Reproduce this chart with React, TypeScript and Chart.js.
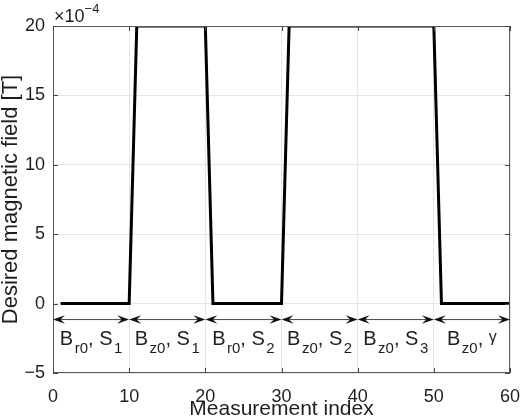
import React, { useEffect, useRef } from "react";
import { Chart, registerables } from "chart.js";

Chart.register(...registerables);

// ---- data ----
const measurementIndex = [
  1, 2, 3, 4, 5, 6, 7, 8, 9, 10,
  11, 12, 13, 14, 15, 16, 17, 18, 19, 20,
  21, 22, 23, 24, 25, 26, 27, 28, 29, 30,
  31, 32, 33, 34, 35, 36, 37, 38, 39, 40,
  41, 42, 43, 44, 45, 46, 47, 48, 49, 50,
  51, 52, 53, 54, 55, 56, 57, 58, 59, 60,
];
// desired magnetic field, in units of 1e-4 T
const desiredField = [
  0, 0, 0, 0, 0, 0, 0, 0, 0, 0,
  20, 20, 20, 20, 20, 20, 20, 20, 20, 20,
  0, 0, 0, 0, 0, 0, 0, 0, 0, 0,
  20, 20, 20, 20, 20, 20, 20, 20, 20, 20,
  20, 20, 20, 20, 20, 20, 20, 20, 20, 20,
  0, 0, 0, 0, 0, 0, 0, 0, 0, 0,
];
const xTicks = [0, 10, 20, 30, 40, 50, 60];
const yTicks = [-5, 0, 5, 10, 15, 20];

// annotation segments (measurement-index ranges) and their labels
const segStart = [0, 10, 20, 30, 40, 50];
const segEnd = [10, 20, 30, 40, 50, 60];
const labelMain1 = ["B", "B", "B", "B", "B", "B"];
const labelSub1 = ["r0", "z0", "r0", "z0", "z0", "z0"];
const labelMain2 = ["S", "S", "S", "S", "S", "\u03b3"];
const labelSub2 = ["1", "1", "2", "2", "3", ""];
const ARROW_Y = -1.15; // data units
const LABEL_Y = -2.95; // data units (baseline)

const FONT = "'Liberation Sans', Arial, Helvetica, sans-serif";
const TEXT = "#1e1e1e";

const fmt = (v: number) => (v < 0 ? "\u2212" + Math.abs(v) : String(v));

const decorPlugin = {
  id: "decor",
  afterDatasetsDraw(chart: any) {
    const { ctx, chartArea: a, scales } = chart;
    const xs = scales.x;
    const ys = scales.y;
    ctx.save();

    // axes box
    ctx.strokeStyle = "#5a5a5a";
    ctx.lineWidth = 1;
    ctx.strokeRect(a.left + 0.5, a.top + 0.5, a.right - a.left - 1, a.bottom - a.top - 1);

    // inward ticks on all four sides
    const tl = 5;
    ctx.strokeStyle = "#444";
    ctx.beginPath();
    xTicks.forEach((t) => {
      const px = Math.round(xs.getPixelForValue(t)) + 0.5;
      ctx.moveTo(px, a.bottom);
      ctx.lineTo(px, a.bottom - tl);
      ctx.moveTo(px, a.top);
      ctx.lineTo(px, a.top + tl);
    });
    yTicks.forEach((t) => {
      const py = Math.round(ys.getPixelForValue(t)) + 0.5;
      ctx.moveTo(a.left, py);
      ctx.lineTo(a.left + tl, py);
      ctx.moveTo(a.right, py);
      ctx.lineTo(a.right - tl, py);
    });
    ctx.stroke();

    // arrows
    const ay = ys.getPixelForValue(ARROW_Y);
    const L = 12;
    const W = 4.2;
    const head = (tx: number, d: number) => {
      ctx.beginPath();
      ctx.moveTo(tx, ay);
      ctx.lineTo(tx - d * L, ay - W);
      ctx.lineTo(tx - d * L * 0.62, ay);
      ctx.lineTo(tx - d * L, ay + W);
      ctx.closePath();
      ctx.fill();
    };
    segStart.forEach((s, i) => {
      const x0 = xs.getPixelForValue(s);
      const x1 = xs.getPixelForValue(segEnd[i]);
      ctx.strokeStyle = "#4a4a4a";
      ctx.lineWidth = 1;
      ctx.beginPath();
      ctx.moveTo(x0 + 3, ay);
      ctx.lineTo(x1 - 3, ay);
      ctx.stroke();
      ctx.fillStyle = "#111";
      head(x0, -1);
      head(x1, 1);
    });

    // labels
    const mainF = `20px ${FONT}`;
    const subF = `15px ${FONT}`;
    const by = ys.getPixelForValue(LABEL_Y);
    const subDy = 8;
    const gap = 1.5;
    ctx.fillStyle = TEXT;
    ctx.textBaseline = "alphabetic";
    ctx.textAlign = "left";
    segStart.forEach((s, i) => {
      const isGamma = labelMain2[i] === "\u03b3";
      const parts: { t: string; f: string; dy: number; pre: number }[] = [
        { t: labelMain1[i], f: mainF, dy: 0, pre: 0 },
        { t: labelSub1[i], f: subF, dy: subDy, pre: gap },
        { t: ", ", f: mainF, dy: 0, pre: 0 },
        { t: labelMain2[i], f: isGamma ? `16px ${FONT}` : mainF, dy: isGamma ? -3 : 0, pre: 0 },
        { t: labelSub2[i], f: subF, dy: subDy, pre: gap },
      ];
      let total = 0;
      parts.forEach((p) => {
        if (!p.t) return;
        ctx.font = p.f;
        total += p.pre + ctx.measureText(p.t).width;
      });
      const cx = (xs.getPixelForValue(s) + xs.getPixelForValue(segEnd[i])) / 2;
      let x = cx - total / 2;
      parts.forEach((p) => {
        if (!p.t) return;
        ctx.font = p.f;
        x += p.pre;
        ctx.fillText(p.t, x, by + p.dy);
        x += ctx.measureText(p.t).width;
      });
    });
    ctx.restore();
  },
  afterDraw(chart: any) {
    const { ctx } = chart;
    const xs = chart.scales.x;
    const ys = chart.scales.y;
    ctx.save();
    ctx.textAlign = "left";
    ctx.textBaseline = "alphabetic";
    ctx.fillStyle = TEXT;
    // exponent label placed relative to the top-left corner of the axes
    const ex = xs.getPixelForValue(0) + 1;
    const eyb = ys.getPixelForValue(20) - 4;
    ctx.font = `18px ${FONT}`;
    ctx.fillText("\u00d710", ex, eyb);
    const w = ctx.measureText("\u00d710").width;
    ctx.font = `13px ${FONT}`;
    ctx.fillText("\u22124", ex + w, eyb - 9);
    ctx.restore();
  },
};

export default function App() {
  const ref = useRef<HTMLCanvasElement | null>(null);
  useEffect(() => {
    if (!ref.current) return;
    const chart = new Chart(ref.current, {
      type: "line",
      data: {
        datasets: [
          {
            data: measurementIndex.map((x, i) => ({ x, y: desiredField[i] })),
            borderColor: "#000",
            borderWidth: 3,
            pointRadius: 0,
            tension: 0,
            fill: false,
          },
        ],
      },
      options: {
        animation: false,
        responsive: false,
        devicePixelRatio: 1,
        layout: { padding: { left: 0, right: 10, top: 26, bottom: 0 } },
        plugins: { legend: { display: false }, tooltip: { enabled: false }, title: { display: false } },
        scales: {
          x: {
            type: "linear",
            min: 0,
            max: 60,
            afterFit: (s: any) => {
              s.height = 47;
              s.paddingLeft = 0;
              s.paddingRight = 0;
            },
            afterBuildTicks: (s: any) => {
              s.ticks = xTicks.map((v) => ({ value: v }));
            },
            ticks: {
              font: { family: FONT, size: 18 },
              color: TEXT,
              padding: 13,
              maxRotation: 0,
              callback: (v: any) => fmt(Number(v)),
            },
            grid: { color: "#e6e6e6", drawTicks: false, lineWidth: 1 },
            border: { display: false },
            title: {
              display: true,
              text: "Measurement index",
              font: { family: FONT, size: 21, lineHeight: 1 },
              color: TEXT,
              padding: { top: 0, bottom: 0 },
            },
          },
          y: {
            type: "linear",
            min: -5,
            max: 20,
            afterFit: (s: any) => {
              s.width = 53;
              s.paddingTop = 0;
              s.paddingBottom = 0;
            },
            afterBuildTicks: (s: any) => {
              s.ticks = yTicks.map((v) => ({ value: v }));
            },
            ticks: {
              font: { family: FONT, size: 18 },
              color: TEXT,
              padding: 8,
              callback: (v: any) => fmt(Number(v)),
            },
            grid: { color: "#e6e6e6", drawTicks: false, lineWidth: 1 },
            border: { display: false },
            title: {
              display: true,
              text: "Desired magnetic field [T]",
              font: { family: FONT, size: 22, lineHeight: 1 },
              color: TEXT,
              padding: { top: 0, bottom: 0 },
            },
          },
        },
      },
      plugins: [decorPlugin],
    });
    return () => chart.destroy();
  }, []);
  return (
    <div style={{ position: "fixed", left: 0, top: 0, width: 520, height: 420, background: "#fff" }}>
      <canvas ref={ref} width={520} height={420} style={{ display: "block" }} />
    </div>
  );
}
